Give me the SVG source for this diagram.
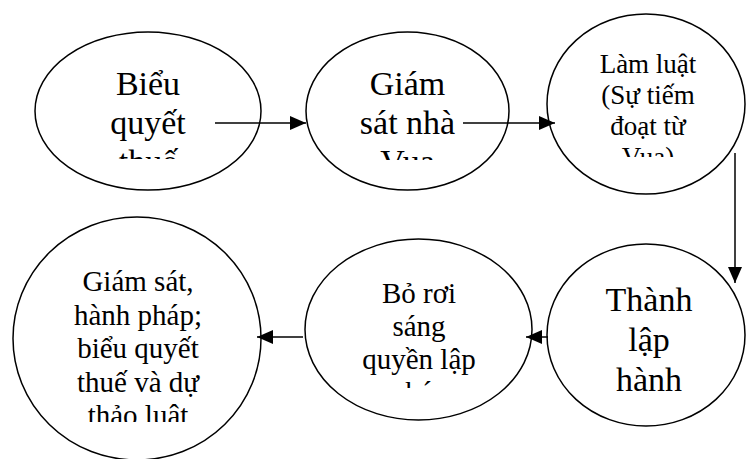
<svg xmlns="http://www.w3.org/2000/svg" width="746" height="459" viewBox="0 0 746 459">
<defs>
<style>
.node ellipse{fill:#fff;stroke:#000;stroke-width:1.5}
.t{font-family:"Liberation Serif","Times New Roman",serif;fill:#000;text-anchor:middle}
.big{font-size:34px}
.sm{font-size:29px}
.sm3{font-size:27px}
.conn line{stroke:#000;stroke-width:1.5}
</style>
<marker id="ah" viewBox="0 0 16 14" refX="16" refY="7" markerWidth="16" markerHeight="14" markerUnits="userSpaceOnUse" orient="auto">
<path d="M0,0 L16,7 L0,14 Z" fill="#000"/>
</marker>
<clipPath id="c1"><rect x="0" y="0" width="746" height="159"/></clipPath>
<clipPath id="c2"><rect x="0" y="0" width="746" height="160"/></clipPath>
<clipPath id="c3"><rect x="0" y="0" width="746" height="157"/></clipPath>
<clipPath id="c5"><rect x="0" y="0" width="746" height="388"/></clipPath>
<clipPath id="c6"><rect x="0" y="0" width="746" height="422"/></clipPath>
</defs>
<rect width="746" height="459" fill="#fff"/>
<g id="n1" class="node">
<ellipse cx="148" cy="111" rx="113" ry="79"/>
<text class="t big" clip-path="url(#c1)"><tspan x="148" y="95">Biểu</tspan><tspan x="148" y="134">quyết</tspan><tspan x="148" y="173">thuế</tspan></text>
</g>
<g id="n2" class="node">
<ellipse cx="407.5" cy="111" rx="101.5" ry="79"/>
<text class="t big" clip-path="url(#c2)"><tspan x="407.5" y="95">Giám</tspan><tspan x="407.5" y="134">sát nhà</tspan><tspan x="407.5" y="173">Vua</tspan></text>
</g>
<g id="n3" class="node">
<ellipse cx="646" cy="104" rx="99" ry="90"/>
<text class="t sm3" clip-path="url(#c3)"><tspan x="648" y="73">Làm luật</tspan><tspan x="648" y="104">(Sự tiếm</tspan><tspan x="648" y="135">đoạt từ</tspan><tspan x="648" y="166">Vua)</tspan></text>
</g>
<g id="n4" class="node">
<ellipse cx="646" cy="335" rx="99" ry="91"/>
<text class="t big"><tspan x="649" y="311">Thành</tspan><tspan x="649" y="351">lập</tspan><tspan x="649" y="391">hành</tspan></text>
</g>
<g id="n5" class="node">
<ellipse cx="418.5" cy="329.5" rx="113.5" ry="90.5"/>
<text class="t sm" clip-path="url(#c5)"><tspan x="419" y="302.5">Bỏ rơi</tspan><tspan x="419" y="335.5">sáng</tspan><tspan x="419" y="368.5">quyền lập</tspan><tspan x="419" y="401.5">pháp</tspan></text>
</g>
<g id="n6" class="node">
<ellipse cx="137" cy="338.5" rx="124" ry="121.5"/>
<text class="t sm" clip-path="url(#c6)"><tspan x="138" y="291">Giám sát,</tspan><tspan x="138" y="324.5">hành pháp;</tspan><tspan x="138" y="358">biểu quyết</tspan><tspan x="138" y="391.5">thuế và dự</tspan><tspan x="138" y="425">thảo luật</tspan></text>
</g>
<g id="connectors" class="conn">
<line x1="215" y1="123" x2="306" y2="123" marker-end="url(#ah)"/>
<line x1="463" y1="123" x2="555" y2="123" marker-end="url(#ah)"/>
<line x1="735" y1="153" x2="735" y2="283" marker-end="url(#ah)"/>
<line x1="548" y1="337" x2="526" y2="337" marker-end="url(#ah)"/>
<line x1="303" y1="337" x2="257" y2="337" marker-end="url(#ah)"/>
</g>
</svg>
